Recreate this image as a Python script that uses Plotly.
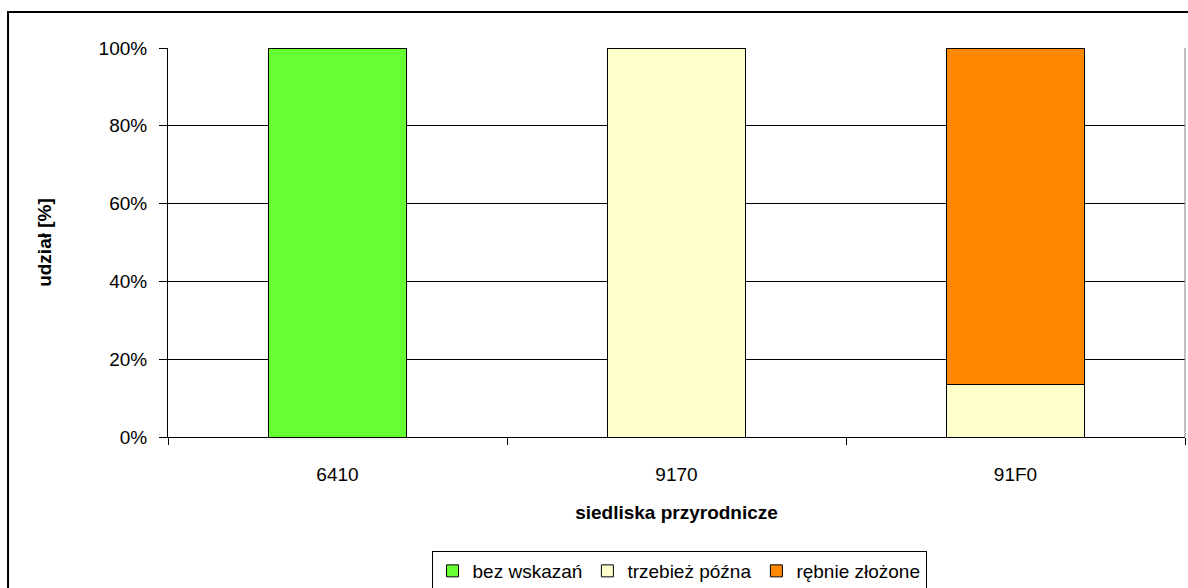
import plotly.graph_objects as go

categories = ["6410", "9170", "91F0"]
bez_wskazan = [100, 0, 0]
trzebiez_pozna = [0, 100, 13.4]
rebnie_zlozone = [0, 0, 86.6]
y_ticks = [0, 20, 40, 60, 80, 100]
y_tick_labels = ["0%", "20%", "40%", "60%", "80%", "100%"]

series = [
    ("bez wskazań", bez_wskazan, "#66FF33"),
    ("trzebież późna", trzebiez_pozna, "#FFFFCC"),
    ("rębnie złożone", rebnie_zlozone, "#FF8800"),
]

fig = go.Figure()
for name, vals, col in series:
    fig.add_trace(go.Bar(
        x=categories, y=vals, name=name,
        marker=dict(color=col, line=dict(color="black", width=1)),
    ))

font = "Liberation Sans, Arial, sans-serif"
fig.update_layout(
    barmode="stack",
    bargap=0.595,
    width=1188, height=588,
    margin=dict(l=168, r=3, t=48, b=151, autoexpand=False),
    paper_bgcolor="white", plot_bgcolor="white",
    font=dict(family=font, size=19, color="black"),
    showlegend=True,
    legend=dict(
        orientation="h", x=0.5025, y=-0.3445, xanchor="center", yanchor="middle",
        traceorder="normal",
        bordercolor="black", borderwidth=1, bgcolor="white",
        font=dict(size=19), itemwidth=30, tracegroupgap=0,
    ),
    xaxis=dict(
        type="category", tickson="boundaries", ticks="outside", ticklen=7,
        tickcolor="black", showline=True, linecolor="black", linewidth=1,
        showgrid=False, range=[-0.5, 2.5], ticklabelstandoff=20,
        title=dict(text="<b>siedliska przyrodnicze</b>", font=dict(size=19), standoff=21),
    ),
    yaxis=dict(
        range=[0, 100], tickvals=y_ticks, ticktext=y_tick_labels,
        ticks="outside", ticklen=8, tickcolor="black", ticklabelstandoff=8,
        showline=True, linecolor="black", linewidth=1,
        showgrid=True, gridcolor="black", gridwidth=1, zeroline=False,
        title=dict(text="<b>udział [%]</b>", font=dict(size=19), standoff=41),
    ),
    shapes=[
        dict(type="rect", xref="paper", yref="paper",
             x0=-0.1573, x1=1.05, y0=-0.45, y1=1.0925,
             line=dict(color="black", width=2), fillcolor="rgba(0,0,0,0)", layer="below"),
        dict(type="line", xref="paper", yref="paper", x0=1, x1=1, y0=0, y1=1,
             line=dict(color="#808080", width=1)),
    ],
)

post = (
    "var h=document.documentElement,b=document.body;"
    "[h,b].forEach(function(e){e.style.margin='0';e.style.padding='0';"
    "e.style.overflow='hidden';e.style.height='588px';e.style.width='1188px';});"
)

fig.write_html(
    "out.html",
    config={"displayModeBar": False},
    post_script=post,
)
